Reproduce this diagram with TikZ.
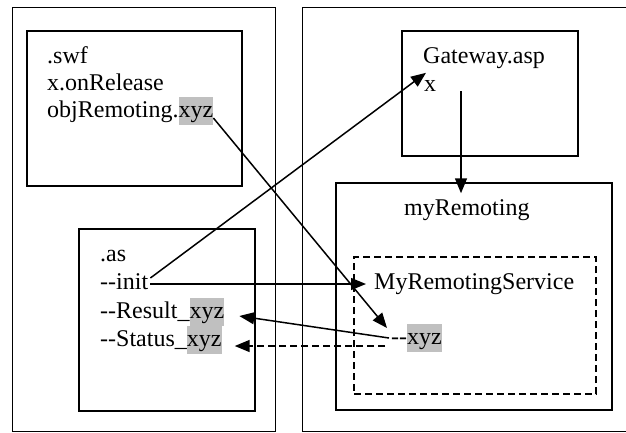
\documentclass[tikz,border=0pt]{standalone}
\usepackage{fontspec}
\setmainfont{Liberation Serif}
\usetikzlibrary{arrows.meta}
\definecolor{hlgray}{RGB}{192,192,192}
\newcommand\hlxyz[1]{{\setlength\fboxsep{0pt}\colorbox{hlgray}{\vrule width 0pt height 20pt depth 8pt #1}}}
\newcommand\dd{-\kern0pt-}
\tikzset{
  outerbox/.style={draw, line width=0.9pt, inner sep=0, fill=none},
  innerbox/.style={draw, line width=1.5pt, inner sep=0},
  dashbox/.style={draw, line width=1.4pt, dash pattern=on 7pt off 4pt, inner sep=0},
  txt/.style={inner sep=0, anchor=base west, text height=20pt, text depth=7pt,
    font=\fontsize{24}{28}\selectfont},
  conn/.style={line width=1.5pt, -{Triangle[length=15pt,width=12pt]}},
  dconn/.style={conn, dash pattern=on 7pt off 4pt}
}
\begin{document}
\begin{tikzpicture}[x=1pt,y=-1pt]
\useasboundingbox (0,0) rectangle (626,432);
\fill[white] (0,0) rectangle (626,432);
% outer boxes
\node[outerbox, minimum width=263pt, minimum height=424.6pt] (leftouter) at (143.5,219.3) {};
\node[outerbox, minimum width=338pt, minimum height=424.6pt] (rightouter) at (471,219.3) {};
% inner boxes
\node[innerbox, minimum width=215pt, minimum height=155pt] (swfbox) at (134.5,108.5) {};
\node[innerbox, minimum width=176pt, minimum height=182pt] (asbox) at (167,320) {};
\node[innerbox, minimum width=176pt, minimum height=125pt] (gwbox) at (490,93.5) {};
\node[innerbox, minimum width=276pt, minimum height=227pt] (mrbox) at (474,296.5) {};
\node[dashbox, minimum width=242pt, minimum height=137pt] (svcbox) at (475,325.5) {};
% texts
\node[txt] (swf) at (47,63) {.swf};
\node[txt] (onrel) at (47,90) {x.onRelease};
\node[txt] (obj) at (47,117) {objRemoting.\hlxyz{xyz}};
\node[txt] (gw) at (423,63) {Gateway.asp};
\node[txt] (gx) at (424,91) {x};
\node[txt] (myrem) at (404,215) {myRemoting};
\node[txt] (mrs) at (374,289) {MyRemotingService};
\node[txt] (sxyz) at (391,344) {\dd\hlxyz{xyz}};
\node[txt] (as) at (100,261) {.as};
\node[txt] (init) at (100,289) {\dd init};
\node[txt] (res) at (100,318) {\dd Result\_\hlxyz{xyz}};
\node[txt] (sta) at (100,346) {\dd Status\_\hlxyz{xyz}};
% connectors
\draw[conn] ([shift={(2pt,4.5pt)}]init.east) -- ([shift={(2pt,-2pt)}]gx.north west);
\draw[conn] ([shift={(0pt,-7.5pt)}]obj.east) -- ([shift={(-4pt,9.5pt)}]sxyz.west);
\draw[conn] ([shift={(2pt,-1.5pt)}]init.east) -- ([shift={(-8pt,-1.5pt)}]mrs.west);
\draw[conn] ([shift={(-2pt,-0.5pt)}]sxyz.west) -- ([shift={(15pt,-4.5pt)}]res.east);
\draw[dconn] ([shift={(-6pt,-8.5pt)}]sxyz.west) -- ([shift={(13pt,-6.5pt)}]sta.east);
\draw[conn] ([shift={(-29pt,2.5pt)}]gwbox.center) -- ([shift={(-13pt,-11pt)}]mrbox.north);
\end{tikzpicture}
\end{document}
